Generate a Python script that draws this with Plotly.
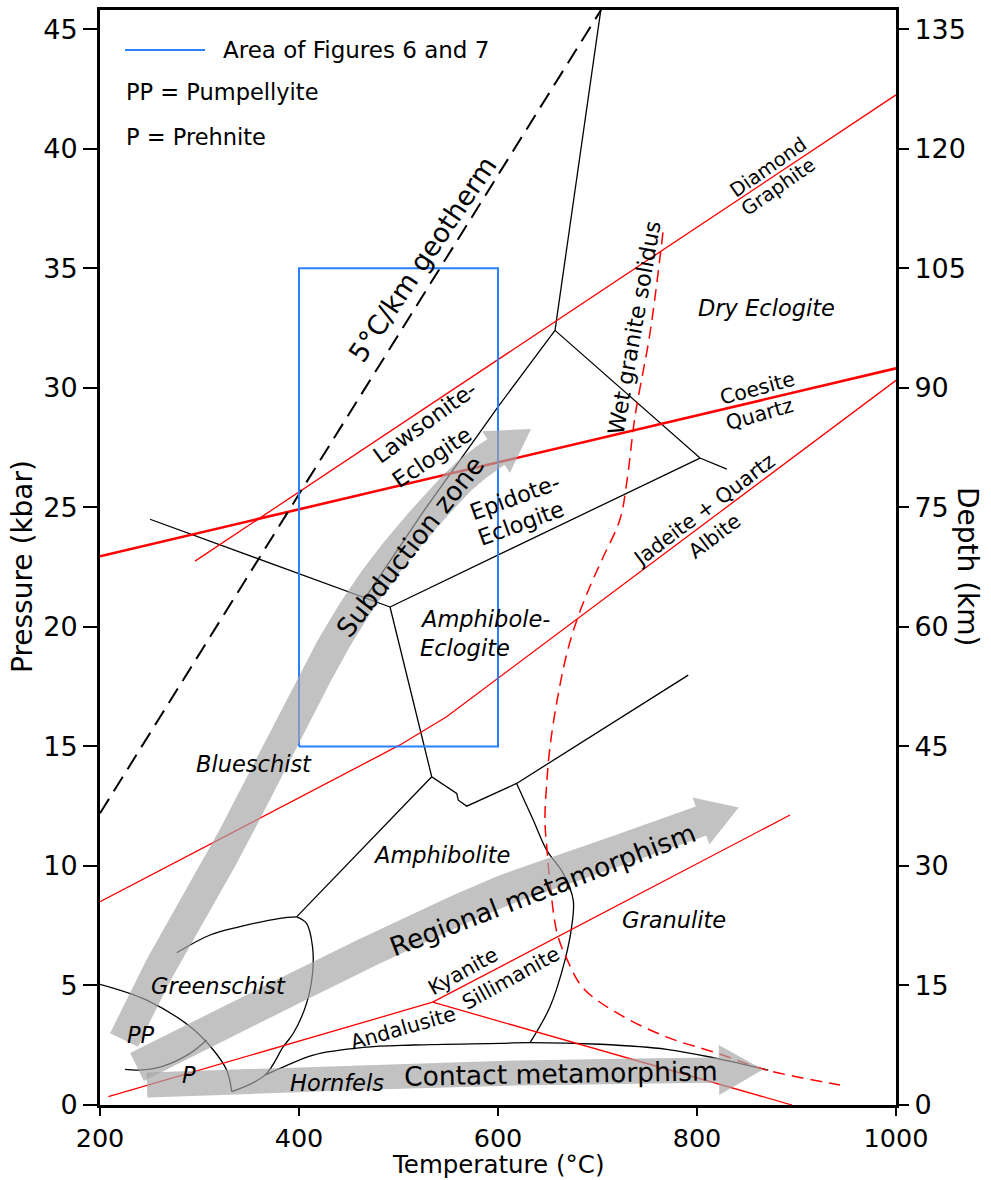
import math
import plotly.graph_objects as go

# ---------------- data (temperature in °C, pressure in kbar) ----------------
x_ticks = [200, 400, 600, 800, 1000]
p_ticks = [0, 5, 10, 15, 20, 25, 30, 35, 40, 45]
depth_ticks = [0, 15, 30, 45, 60, 75, 90, 105, 120, 135]

geotherm_T = [200, 703.5]
geotherm_P = [12.2, 45.8]

area_T = [400, 600, 600, 400, 400]
area_P = [15, 15, 35, 35, 15]

# black facies boundaries
ecl_top_T = [704, 657.3]
ecl_top_P = [46.0, 32.4]
dry_ecl_T = [657.3, 803, 830]
dry_ecl_P = [32.4, 27.06, 26.6]
epi_amph_T = [803, 491.5]
epi_amph_P = [27.06, 20.83]
blueschist_top_T = [250.3, 491.5]
blueschist_top_P = [24.5, 20.83]
lawsonite_T = [657.3, 600, 524.6, 466.3]
lawsonite_P = [32.4, 29.2, 24.8, 21.2]
amph_ecl_T = [491.5, 533.4, 558.5, 560.1, 568.6, 618.7, 791.2]
amph_ecl_P = [20.83, 13.73, 13.03, 12.75, 12.5, 13.45, 17.98]
granulite_T = [618.7, 635.4, 648.9, 665.5, 675.6, 674.0, 667.3, 652.3, 632.2]
granulite_P = [13.45, 11.92, 10.66, 9.69, 8.57, 7.46, 6.06, 4.11, 2.61]
hornfels_T = [365.8, 380.9, 414.4, 464.6, 514.9, 602, 632.2, 702.5, 769.5, 819.7, 871.6]
hornfels_P = [1.25, 1.53, 2.09, 2.41, 2.51, 2.58, 2.61, 2.54, 2.33, 1.95, 1.46]
gs_amph_T = [533.4, 397.6]
gs_amph_P = [13.73, 7.87]
gs_top_T = [397.6, 380.9, 340.7, 310.6, 277.1]
gs_top_P = [7.87, 7.81, 7.46, 7.11, 6.37]
gs_right_T = [397.6, 407.6, 413.6, 413.6, 407.6, 394.3, 384.2, 365.8, 332.4]
gs_right_P = [7.87, 7.6, 6.62, 5.51, 4.25, 3.0, 2.44, 1.25, 0.56]
pp_T = [200, 246.9, 290.5, 313.9, 327.3, 332.4]
pp_P = [5.05, 4.39, 3.28, 2.3, 1.46, 0.56]
prehnite_T = [225.1, 238.5, 263.6, 290.5, 307.2]
prehnite_P = [1.49, 1.46, 1.63, 2.16, 2.72]

# red mineral reactions
diamond_T = [295.5, 1000]
diamond_P = [22.75, 42.25]
coesite_T = [200, 1000]
coesite_P = [22.95, 30.81]
jadeite_T = [200, 501.5, 548.3, 1000]
jadeite_P = [8.5, 15.06, 16.24, 30.31]
andalusite_T = [208.4, 534.3]
andalusite_P = [0.35, 4.30]
kyanite_T = [534.3, 893.5]
kyanite_P = [4.30, 12.13]
sillimanite_T = [534.3, 895.5]
sillimanite_P = [4.30, 0.0]
solidus_T = [765.8, 752.8, 737.7, 729.6, 722.6, 705.5, 692.5, 679.4, 669.3, 659.3, 652.3,
             649.2, 647.2, 649.2, 652.3, 659.3, 669.3, 685.4, 719.6, 769.8, 820.1, 870.4, 943.7]
solidus_P = [36.5, 32.3, 28.8, 26.1, 24.5, 22.9, 21.7, 20.3, 18.9, 16.9, 15.0,
             13.6, 11.9, 10.7, 9.3, 7.2, 6.1, 4.9, 3.85, 2.84, 2.17, 1.46, 0.84]

# metamorphic path arrows (centre lines)
subduction_T = [224.1, 256.3, 295.5, 329.6, 365.8, 398.0, 431.2, 463.3, 496.5, 531.7, 561.8, 581.9, 598.0]
subduction_P = [2.72, 5.44, 8.37, 10.87, 13.80, 16.40, 19.03, 21.21, 23.09, 24.80, 26.14, 26.85, 27.31]
regional_T = [237.2, 320.6, 414.1, 501.5, 602.0, 702.5, 804.0]
regional_P = [1.59, 3.31, 5.27, 7.03, 8.91, 10.37, 11.88]
contact_T = [247.2, 398.0, 501.5, 669.3, 822.1]
contact_P = [0.84, 1.05, 1.21, 1.38, 1.46]

# ---------------- layout geometry ----------------
W, H = 991, 1180
ML, MR, MT, MB = 100, 95, 10, 75
X_RANGE = [200, 1000]
Y_RANGE = [0, 45.8]
PLOT_W = W - ML - MR
PLOT_H = H - MT - MB
SX = PLOT_W / (X_RANGE[1] - X_RANGE[0])
SY = PLOT_H / (Y_RANGE[1] - Y_RANGE[0])
FONT = "DejaVu Sans"
RED = "#ff0000"
BLUE = "#2a7fff"


def to_px(t, p):
    return ((t - X_RANGE[0]) * SX, (Y_RANGE[1] - p) * SY)


def to_data(x, y):
    return (X_RANGE[0] + x / SX, Y_RANGE[1] - y / SY)


def catmull(pts, n=10):
    out = []
    for i in range(len(pts) - 1):
        p0 = pts[max(i - 1, 0)]
        p1 = pts[i]
        p2 = pts[i + 1]
        p3 = pts[min(i + 2, len(pts) - 1)]
        for k in range(n):
            s = k / n
            s2, s3 = s * s, s * s * s
            q = []
            for d in range(2):
                q.append(0.5 * (2 * p1[d] + (-p0[d] + p2[d]) * s
                                + (2 * p0[d] - 5 * p1[d] + 4 * p2[d] - p3[d]) * s2
                                + (-p0[d] + 3 * p1[d] - 3 * p2[d] + p3[d]) * s3))
            out.append(tuple(q))
    out.append(pts[-1])
    return out


def arrow_outline(T, P, width, head_w, head_l):
    pts = catmull([to_px(t, p) for t, p in zip(T, P)])
    left, right = [], []
    for i, (x, y) in enumerate(pts):
        a = pts[max(i - 1, 0)]
        b = pts[min(i + 1, len(pts) - 1)]
        dx, dy = b[0] - a[0], b[1] - a[1]
        L = math.hypot(dx, dy)
        nx, ny = dy / L, -dx / L
        left.append((x + nx * width / 2, y + ny * width / 2))
        right.append((x - nx * width / 2, y - ny * width / 2))
    x, y = pts[-1]
    a = pts[-3]
    dx, dy = x - a[0], y - a[1]
    L = math.hypot(dx, dy)
    ux, uy = dx / L, dy / L
    nx, ny = uy, -ux
    head = [(x + nx * head_w / 2, y + ny * head_w / 2),
            (x + ux * head_l, y + uy * head_l),
            (x - nx * head_w / 2, y - ny * head_w / 2)]
    poly = left + head + right[::-1] + [left[0]]
    dat = [to_data(*q) for q in poly]
    return [d[0] for d in dat], [d[1] for d in dat]


fig = go.Figure()


def line(T, P, color="black", width=1.3, dash=None, shape="linear"):
    fig.add_trace(go.Scatter(x=T, y=P, mode="lines",
                             line=dict(color=color, width=width, dash=dash, shape=shape),
                             hoverinfo="skip", showlegend=False))


# black boundaries
line(ecl_top_T, ecl_top_P)
line(dry_ecl_T, dry_ecl_P)
line(epi_amph_T, epi_amph_P)
line(blueschist_top_T, blueschist_top_P)
line(lawsonite_T, lawsonite_P)
line(amph_ecl_T, amph_ecl_P)
line(granulite_T, granulite_P, shape="spline")
line(hornfels_T, hornfels_P, shape="spline")
line(gs_amph_T, gs_amph_P)
line(gs_top_T, gs_top_P, shape="spline")
line(gs_right_T, gs_right_P, shape="spline")
line(pp_T, pp_P, shape="spline")
line(prehnite_T, prehnite_P, shape="spline")

# red reactions
line(diamond_T, diamond_P, RED, 1.3)
line(coesite_T, coesite_P, RED, 2.6)
line(jadeite_T, jadeite_P, RED, 1.3)
line(andalusite_T, andalusite_P, RED, 1.3)
line(kyanite_T, kyanite_P, RED, 1.3)
line(sillimanite_T, sillimanite_P, RED, 1.3)
line(solidus_T, solidus_P, RED, 1.5, dash="12px,7px", shape="spline")

# geotherm and study area
line(geotherm_T, geotherm_P, "black", 2, dash="17px,9px")
line(area_T, area_P, BLUE, 2)

# arrows
for T, P, w, hw, hl in [(subduction_T, subduction_P, 31, 50, 42),
                        (regional_T, regional_P, 31, 50, 40),
                        (contact_T, contact_P, 25, 50, 44)]:
    ax, ay = arrow_outline(T, P, w, hw, hl)
    fig.add_trace(go.Scatter(x=ax, y=ay, mode="lines", fill="toself",
                             fillcolor="rgb(165,165,165)", line=dict(width=0, color="rgb(165,165,165)"),
                             opacity=0.68, hoverinfo="skip", showlegend=False))

# depth axis carrier (invisible)
fig.add_trace(go.Scatter(x=geotherm_T, y=[p * 3 for p in geotherm_P], yaxis="y2", mode="lines",
                         line=dict(width=0), opacity=0, hoverinfo="skip", showlegend=False))

ann = []


def label(text, T, P, size=22.5, angle=0, italic=False, xanchor="center"):
    if italic:
        text = "<i>" + text + "</i>"
    ann.append(dict(text=text, x=T, y=P, xref="x", yref="y", showarrow=False,
                    textangle=angle, xanchor=xanchor, yanchor="middle",
                    font=dict(family=FONT, size=size, color="black")))


def plabel(text, px, py, size=22.5, angle=0, xanchor="center", yanchor="middle"):
    ann.append(dict(text=text, x=(px - ML) / PLOT_W, y=(MT + PLOT_H - py) / PLOT_H,
                    xref="paper", yref="paper", showarrow=False, textangle=angle,
                    xanchor=xanchor, yanchor=yanchor, borderpad=0,
                    font=dict(family=FONT, size=size, color="black")))


# facies names
label("Blueschist", 354.8, 14.26, italic=True)
label("Greenschist", 318.6, 4.98, italic=True)
label("Amphibolite", 543.7, 10.46, italic=True)
label("Granulite", 776.9, 7.74, italic=True)
label("Dry Eclogite", 870.3, 33.34, italic=True)
label("Amphibole-", 519.6, 20.33, italic=True, xanchor="left")
label("Eclogite", 519.6, 19.11, italic=True, xanchor="left")
label("Epidote-", 617.1, 25.43, angle=-20)
label("Eclogite", 623.1, 24.34, angle=-20)
label("Lawsonite-", 526.6, 28.57, angle=-36)
label("Eclogite", 533.7, 27.10, angle=-34)
label("PP", 241.2, 2.93, italic=True)
label("P", 289.4, 1.25, italic=True)
label("Hornfels", 438.2, 0.92, italic=True)

# mineral reactions
label("Diamond", 871.3, 39.23, size=19.5, angle=-35)
label("Graphite", 882.4, 38.40, size=19.5, angle=-35)
label("Coesite", 861.3, 30.0, size=20.5, angle=-15)
label("Quartz", 863.3, 28.90, size=20.5, angle=-16)
label("Jadeite + Quartz", 807.0, 24.89, size=20.5, angle=-37)
label("Albite", 818.0, 23.8, size=20.5, angle=-37)
label("Kyanite", 565.2, 5.60, size=20.5, angle=-29)
label("Sillimanite", 613.1, 5.31, size=20.5, angle=-29)
label("Andalusite", 504.5, 3.22, size=20.5, angle=-16)
label("Wet granite solidus", 736.7, 32.5, size=22.5, angle=-80)
label("5°C/km geotherm", 524.6, 35.4, size=27, angle=-56)

# arrow texts
label("Subduction zone", 511.6, 23.34, size=26.5, angle=-52)
label("Regional metamorphism", 645.2, 9.03, size=26.5, angle=-21)
label("Contact metamorphism", 663.3, 1.30, size=26.5, angle=-1)

# legend block
plabel("Area of Figures 6 and 7", 222, 50, size=23, xanchor="left")
plabel("PP = Pumpellyite", 125, 92, xanchor="left")
plabel("P = Prehnite", 125, 137, xanchor="left")

# axis titles
plabel("Pressure (kbar)", 22, 567, size=28, angle=-90)
plabel("Temperature (°C)", 498, 1180, size=24.5, yanchor="bottom")
plabel("Depth (km)", 968, 567, size=28, angle=90)

shapes = [dict(type="line", xref="paper", yref="paper",
               x0=(125 - ML) / PLOT_W, x1=(205 - ML) / PLOT_W,
               y0=(MT + PLOT_H - 50) / PLOT_H, y1=(MT + PLOT_H - 50) / PLOT_H,
               line=dict(color=BLUE, width=2))]

axis_common = dict(showgrid=False, zeroline=False, showline=True, linecolor="black",
                   linewidth=3, ticks="outside", tickwidth=2, tickcolor="black",
                   automargin=False)

fig.update_layout(
    width=W, height=H,
    margin=dict(l=ML, r=MR, t=MT, b=MB, pad=0),
    paper_bgcolor="white", plot_bgcolor="white",
    showlegend=False,
    xaxis=dict(range=X_RANGE, tickvals=x_ticks, ticklen=8, mirror=True,
               tickfont=dict(family=FONT, size=25.5, color="black"), **axis_common),
    yaxis=dict(range=Y_RANGE, tickvals=p_ticks, ticklen=14, mirror=True,
               tickfont=dict(family=FONT, size=27, color="black"), **axis_common),
    yaxis2=dict(range=[Y_RANGE[0] * 3, Y_RANGE[1] * 3], tickvals=depth_ticks, overlaying="y",
                side="right", showgrid=False, zeroline=False, showline=False, ticks="outside",
                ticklen=12, tickwidth=2, tickcolor="black",
                tickfont=dict(family=FONT, size=27, color="black"), automargin=False),
    annotations=ann,
    shapes=shapes,
)

fig.write_html("out.html", config={"displayModeBar": False},
               post_script="document.body.style.margin='0';document.body.style.overflow='hidden';")
